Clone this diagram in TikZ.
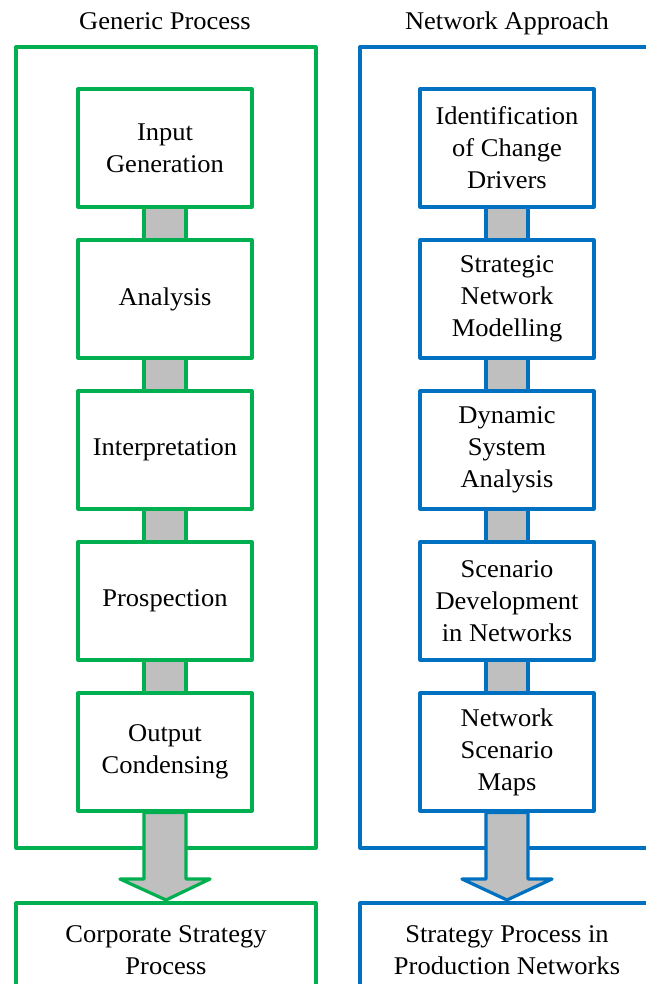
\documentclass[tikz,border=0pt]{standalone}
\usepackage{fontspec}
\setmainfont{Liberation Serif}[FakeStretch=1.04]
\usetikzlibrary{positioning,backgrounds}
\definecolor{ProcGreen}{RGB}{0,176,80}
\definecolor{ProcBlue}{RGB}{0,112,192}
\definecolor{LinkGray}{RGB}{191,191,191}

\begin{document}
\begin{tikzpicture}[x=1pt, y=-1pt, line width=3.2pt, line join=round,
      every node/.append style={font=\fontsize{25.5}{32}\selectfont, align=center, outer sep=0pt},
      node distance=33pt]
    \tikzstyle{frame} = [draw, rectangle, inner sep=0pt, minimum height=801pt]
    \tikzstyle{stepbox} = [draw, fill=white, rectangle, minimum width=174pt, minimum height=118pt, inner sep=2pt]
    \tikzstyle{target} = [draw, rectangle, minimum height=94pt, anchor=north]
    \tikzstyle{link} = [fill=LinkGray, line width=3.2pt, line join=round]
    \useasboundingbox (0,0) rectangle (645,984);

    \node (generic_title) [anchor=base] at (165,30) {Generic Process};
    \node (network_title) [anchor=base] at (507,30) {Network Approach};

    \node (generic_frame) [frame, draw=ProcGreen, minimum width=300pt, anchor=north west] at (16,47) {};
    \node (network_frame) [frame, draw=ProcBlue, minimum width=340pt, anchor=north west] at (360,47) {};

    \node (input) [stepbox, draw=ProcGreen, anchor=north] at (165,89) {Input\\Generation};
    \node (analysis) [stepbox, draw=ProcGreen, below=of input] {Analysis};
    \node (interpretation) [stepbox, draw=ProcGreen, below=of analysis] {Interpretation};
    \node (prospection) [stepbox, draw=ProcGreen, below=of interpretation] {Prospection};
    \node (output) [stepbox, draw=ProcGreen, below=of prospection] {Output\\Condensing};

    \node (drivers) [stepbox, draw=ProcBlue, anchor=north] at (507,89) {Identification\\of Change\\Drivers};
    \node (modelling) [stepbox, draw=ProcBlue, below=of drivers] {Strategic\\Network\\Modelling};
    \node (dynamics) [stepbox, draw=ProcBlue, below=of modelling] {Dynamic\\System\\Analysis};
    \node (scenario) [stepbox, draw=ProcBlue, below=of dynamics] {Scenario\\Development\\in Networks};
    \node (maps) [stepbox, draw=ProcBlue, below=of scenario] {Network\\Scenario\\Maps};

    \node (corporate) [target, draw=ProcGreen, minimum width=300pt] at (166,903) {Corporate Strategy\\Process};
    \node (production) [target, draw=ProcBlue, minimum width=340pt] at (530,903) {};
    \node (production_text) at (507,950) {Strategy Process in\\Production Networks};

    \begin{scope}[on background layer]
      \foreach \a/\b in {input/analysis, analysis/interpretation, interpretation/prospection, prospection/output}
        \draw[link, draw=ProcGreen] ([xshift=-21pt]\a.south) rectangle ([xshift=21pt]\b.north);
      \foreach \a/\b in {drivers/modelling, modelling/dynamics, dynamics/scenario, scenario/maps}
        \draw[link, draw=ProcBlue] ([xshift=-21pt]\a.south) rectangle ([xshift=21pt]\b.north);
    \end{scope}

    \draw[link, draw=ProcGreen] ([xshift=-21pt, yshift=-1.6pt]output.south) -- ([xshift=-21pt, yshift=-68pt]output.south)
      -- ([xshift=-45pt, yshift=-68pt]output.south) -- ([yshift=3pt]corporate.north)
      -- ([xshift=45pt, yshift=-68pt]output.south) -- ([xshift=21pt, yshift=-68pt]output.south)
      -- ([xshift=21pt, yshift=-1.6pt]output.south) -- cycle;
    \draw[link, draw=ProcBlue] ([xshift=-21pt, yshift=-1.6pt]maps.south) -- ([xshift=-21pt, yshift=-68pt]maps.south)
      -- ([xshift=-45pt, yshift=-68pt]maps.south) -- ([xshift=-23pt, yshift=3pt]production.north)
      -- ([xshift=45pt, yshift=-68pt]maps.south) -- ([xshift=21pt, yshift=-68pt]maps.south)
      -- ([xshift=21pt, yshift=-1.6pt]maps.south) -- cycle;
  \end{tikzpicture}
\end{document}
